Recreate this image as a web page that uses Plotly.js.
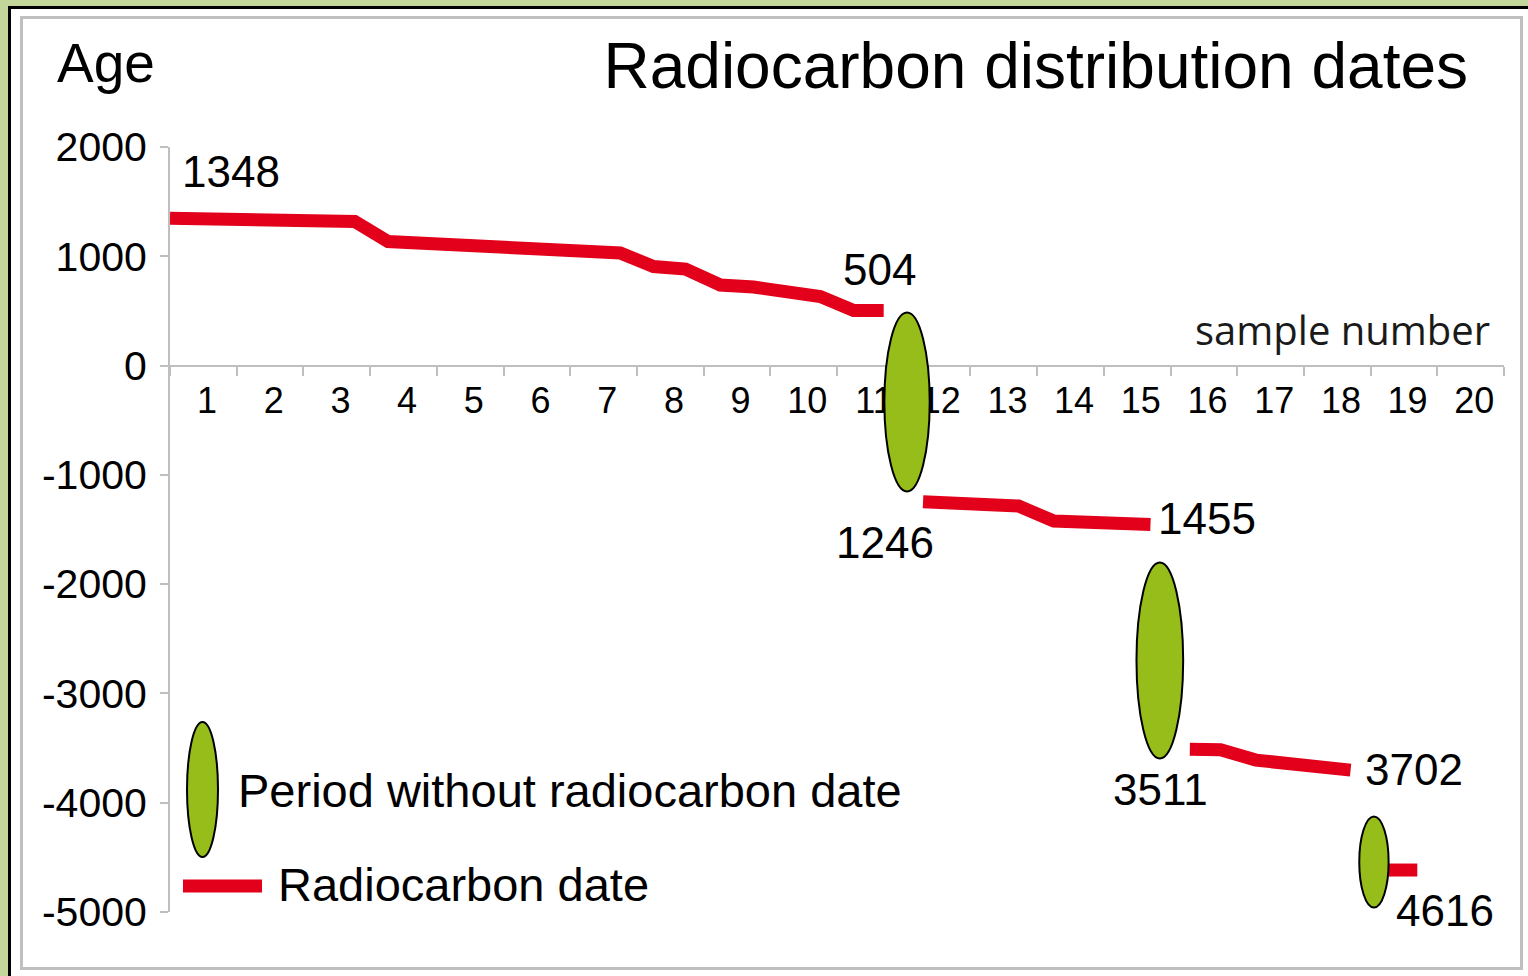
<!DOCTYPE html>
<html>
<head>
<meta charset="utf-8">
<script src="https://cdn.plot.ly/plotly-3.0.1.min.js"></script>
<style>
  html, body { margin: 0; padding: 0; background: #c4d79b; width: 1528px; height: 976px; overflow: hidden; }
  #frame { position: absolute; left: 8px; top: 6px; width: 1520px; height: 970px; background: #ffffff;
           border-left: 3px solid #000; border-top: 3px solid #000; box-sizing: border-box; }
  #inner { position: absolute; left: 20px; top: 16px; width: 1503px; height: 954px;
           border: 3px solid #bfbfbf; box-sizing: border-box; }
  #chart { position: absolute; left: 0; top: 0; width: 1528px; height: 976px; }
</style>
</head>
<body>
<div id="frame"></div>
<div id="inner"></div>
<div id="chart"></div>
<script>
// ---------------- data ----------------
const sampleLabels = ['1','2','3','4','5','6','7','8','9','10','11','12','13','14','15','16','17','18','19','20'];
const yTickValues = [2000, 1000, 0, -1000, -2000, -3000, -4000, -5000];

// radiocarbon date segments (sample position, age; negative = BC)
const seg1Sample = [0.5, 2.2, 3.27, 3.77, 5.45, 6.4, 7.25, 7.75, 8.23, 8.75, 9.25, 10.25, 10.75, 11.2];
const seg1Age    = [1348, 1340, 1318, 1135, 1089, 1057, 1030, 906, 883, 737, 719, 631, 504, 504];
const seg2Sample = [11.79, 12.35, 13.22, 13.75, 15.2];
const seg2Age    = [-1246, -1255, -1285, -1423, -1455];
const seg3Sample = [15.79, 16.25, 16.78, 18.2];
const seg3Age    = [-3511, -3515, -3610, -3702];
const seg4Sample = [18.75, 19.2];
const seg4Age    = [-4616, -4616];

// periods without radiocarbon date (ellipses)
const gapSample = [11.55, 15.34, 18.55];
const gapTop    = [485, -1802, -4126];
const gapBottom = [-1153, -3596, -4959];

// ---------------- build ----------------
const segSamples = [seg1Sample, seg2Sample, seg3Sample, seg4Sample];
const segAges = [seg1Age, seg2Age, seg3Age, seg4Age];
const lineX = [], lineY = [];
segSamples.forEach((s, k) => {
  s.forEach((v, i) => { lineX.push(v); lineY.push(segAges[k][i]); });
  lineX.push(null); lineY.push(null);
});

const RED = '#e2001a';
const GREEN = '#97bd1b';
const FONT = 'Liberation Sans, Arial, sans-serif';

const traces = [{
  type: 'scatter', mode: 'lines', x: lineX, y: lineY,
  line: { color: RED, width: 13 }, connectgaps: false, hoverinfo: 'skip', showlegend: false
}];

const gapHalfWidth = [0.34, 0.35, 0.22];
const shapes = gapSample.map((c, i) => ({
  type: 'circle', xref: 'x', yref: 'y', layer: 'above',
  x0: c - gapHalfWidth[i], x1: c + gapHalfWidth[i], y0: gapBottom[i], y1: gapTop[i],
  fillcolor: GREEN, line: { color: '#000', width: 2 }
}));

// legend (paper coords)
const px = p => (p - 170) / 1334;
const py = p => (912 - p) / 765;
shapes.push({ type: 'circle', xref: 'paper', yref: 'paper', layer: 'above',
  x0: px(187), x1: px(218), y0: py(857), y1: py(722),
  fillcolor: GREEN, line: { color: '#000', width: 2 } });
shapes.push({ type: 'line', xref: 'paper', yref: 'paper', layer: 'above',
  x0: px(183), x1: px(262), y0: py(886), y1: py(886),
  line: { color: RED, width: 13 } });

// data labels: anchored at segment end points, offset in pixels
const lbl = (x, y, dx, dy) => ({
  xref: 'x', yref: 'y', x: x, y: y, text: String(Math.abs(y)), showarrow: false,
  xshift: dx, yshift: dy, xanchor: 'center', yanchor: 'middle',
  font: { family: FONT, size: 44, color: '#000' }
});
const last = a => a[a.length - 1];
const annotations = [
  lbl(seg1Sample[0], seg1Age[0], 61, 47),
  lbl(last(seg1Sample), last(seg1Age), -4, 41),
  lbl(seg2Sample[0], seg2Age[0], -38, -41),
  lbl(last(seg2Sample), last(seg2Age), 57, 6),
  lbl(seg3Sample[0], seg3Age[0], -29, -40),
  lbl(last(seg3Sample), last(seg3Age), 63, 1),
  lbl(last(seg4Sample), last(seg4Age), 28, -40),
  { xref: 'paper', yref: 'paper', x: px(55), y: py(63), xanchor: 'left', yanchor: 'middle',
    text: 'Age', showarrow: false, font: { family: FONT, size: 55, color: '#000' } },
  { xref: 'paper', yref: 'paper', x: px(1492), y: py(329), xanchor: 'right', yanchor: 'middle',
    text: 'sample number', showarrow: false, font: { family: 'Open Sans, Noto Sans, sans-serif', size: 40, color: '#1a1a1a' } },
  { xref: 'paper', yref: 'paper', x: px(236), y: py(790), xanchor: 'left', yanchor: 'middle',
    text: 'Period without radiocarbon date', showarrow: false, font: { family: FONT, size: 47, color: '#000' } },
  { xref: 'paper', yref: 'paper', x: px(276), y: py(884), xanchor: 'left', yanchor: 'middle',
    text: 'Radiocarbon date', showarrow: false, font: { family: FONT, size: 47, color: '#000' } }
];

const xTickVals = sampleLabels.map((_, i) => i + 0.5).concat([sampleLabels.length + 0.5]);
const xTickText = sampleLabels.concat(['']);

const layout = {
  width: 1528, height: 976,
  paper_bgcolor: 'rgba(0,0,0,0)', plot_bgcolor: 'rgba(0,0,0,0)',
  margin: { l: 170, r: 24, t: 147, b: 64, pad: 0 },
  showlegend: false,
  title: { text: 'Radiocarbon distribution dates', xref: 'container', yref: 'container',
           x: 1468 / 1528, xanchor: 'right', y: 1 - 66 / 976, yanchor: 'middle',
           font: { family: FONT, size: 64, color: '#000' } },
  xaxis: {
    range: [0.5, sampleLabels.length + 0.5], anchor: 'free', position: 5 / 7,
    tickmode: 'array', tickvals: xTickVals, ticktext: xTickText,
    ticks: 'outside', ticklen: 9, tickwidth: 2, tickcolor: '#bfbfbf',
    ticklabelshift: 37, ticklabelstandoff: -6,
    showline: true, linecolor: '#bfbfbf', linewidth: 2,
    showgrid: false, zeroline: false, fixedrange: true,
    tickfont: { family: FONT, size: 36, color: '#000' }
  },
  yaxis: {
    range: [-5000, 2000], tickmode: 'array', tickvals: yTickValues, ticktext: yTickValues.map(String),
    ticks: 'outside', ticklen: 8, tickwidth: 2, tickcolor: '#bfbfbf', ticklabelstandoff: 5,
    showline: true, linecolor: '#bfbfbf', linewidth: 2,
    showgrid: false, zeroline: false, fixedrange: true,
    tickfont: { family: FONT, size: 41, color: '#000' }
  },
  shapes: shapes,
  annotations: annotations
};

Plotly.newPlot('chart', traces, layout, { staticPlot: true, displayModeBar: false });
</script>
</body>
</html>
